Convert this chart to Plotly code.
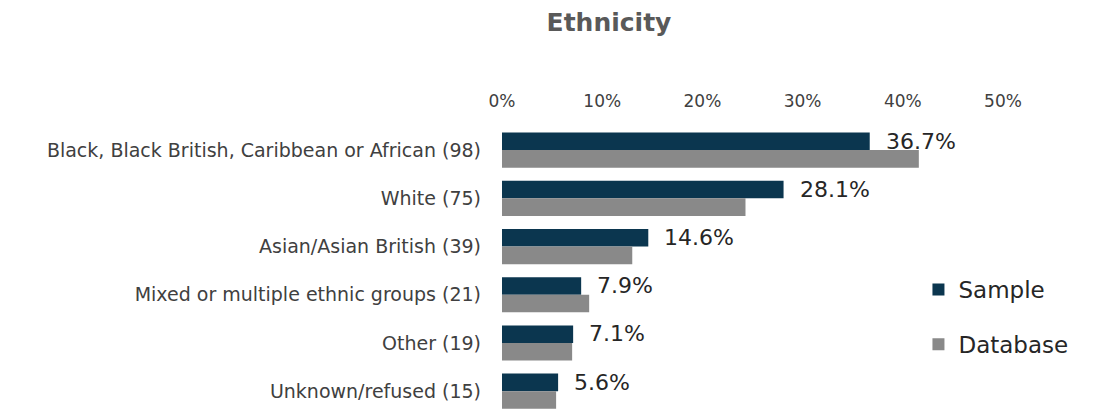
import plotly.graph_objects as go

# Ethnicity breakdown: sample vs. database share
categories = [
    "Black, Black British, Caribbean or African (98)",
    "White (75)",
    "Asian/Asian British (39)",
    "Mixed or multiple ethnic groups (21)",
    "Other (19)",
    "Unknown/refused (15)",
]
sample_pct = [0.367, 0.281, 0.146, 0.079, 0.071, 0.056]
database_pct = [0.416, 0.243, 0.130, 0.087, 0.070, 0.054]
x_ticks = [0, 0.1, 0.2, 0.3, 0.4, 0.5]

SAMPLE_COLOR = "#0B364F"
DATABASE_COLOR = "#898989"
FONT = "DejaVu Sans"
TEXT_COLOR = "#404040"

fig = go.Figure()
fig.add_trace(go.Bar(
    name="Sample", y=categories, x=sample_pct, orientation="h",
    marker=dict(color=SAMPLE_COLOR, line=dict(width=0)),
    legendgroup="s",
))
fig.add_trace(go.Bar(
    name="Database", y=categories, x=database_pct, orientation="h",
    marker=dict(color=DATABASE_COLOR, line=dict(width=0)),
    legendgroup="d",
))

# value labels next to the sample bars
for cat, v in zip(categories, sample_pct):
    fig.add_annotation(
        x=v, y=cat, text=f"{v * 100:.1f}%", showarrow=False,
        xanchor="left", xshift=14, yshift=9,
        font=dict(family=FONT, size=22, color="#262626"),
    )

fig.update_layout(
    width=1120, height=410,
    margin=dict(l=502, r=117, t=126, b=0, autoexpand=False),
    paper_bgcolor="white", plot_bgcolor="white",
    barmode="group", bargap=0.27, bargroupgap=0,
    font=dict(family=FONT, size=17, color=TEXT_COLOR),
    title=dict(
        text="<b>Ethnicity</b>", x=609 / 1120, xanchor="center",
        y=1 - 22 / 410, yanchor="middle",
        font=dict(family=FONT, size=25, color="#595959"),
    ),
    xaxis=dict(
        side="top", range=[0, 0.5], tickvals=x_ticks, tickformat=".0%",
        showgrid=False, zeroline=False, showline=False, ticks="",
        ticklabelstandoff=15, automargin=False,
        tickfont=dict(family=FONT, size=17, color=TEXT_COLOR),
    ),
    yaxis=dict(
        range=[5.39, -0.5], showgrid=False, zeroline=False, showline=False,
        ticks="", ticklabelstandoff=20, automargin=False,
        tickfont=dict(family=FONT, size=19, color=TEXT_COLOR),
    ),
    legend=dict(
        x=931 / 1120, xref="paper", xanchor="left",
        y=(410 - 268) / 284, yref="paper", yanchor="top",
        traceorder="grouped", tracegroupgap=22,
        font=dict(family=FONT, size=23, color="#262626"),
        bgcolor="rgba(0,0,0,0)", itemwidth=30,
    ),
)

fig.write_html("out.html")
